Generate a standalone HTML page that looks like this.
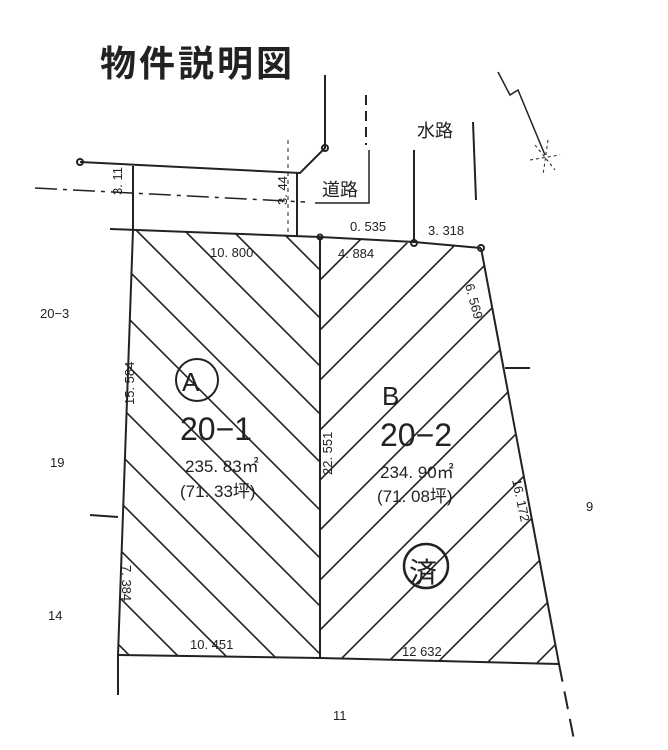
<!DOCTYPE html>
<html><head><meta charset="utf-8"><style>
html,body{margin:0;padding:0;background:#fff;width:668px;height:750px;overflow:hidden}
svg{display:block}
svg text{font-family:"Liberation Sans","Noto Sans CJK JP",sans-serif;fill:#222}
</style></head><body>
<svg width="668" height="750" viewBox="0 0 668 750" xmlns="http://www.w3.org/2000/svg">
<defs>
<clipPath id="cA"><polygon points="133,230 320,237 320,658 118,655"/></clipPath>
<clipPath id="cB"><polygon points="320,237 481,248 559,664 320,658"/></clipPath>
</defs>
<text x="100" y="76" font-size="36" font-weight="bold" letter-spacing="3">物件説明図</text>
<g stroke="#222" stroke-width="2" fill="none">
<g clip-path="url(#cA)" stroke-width="1.6">
<path d="M40,230 l430,430 M88,230 l430,430 M136,230 l430,430 M184,230 l430,430 M232,230 l430,430 M280,230 l430,430 M-8,230 l430,430 M-56,230 l430,430 M-104,230 l430,430 M-152,230 l430,430 M-200,230 l430,430 M-248,230 l430,430 M-296,230 l430,430 M-344,230 l430,430 M-392,230 l430,430"/>
</g>
<g clip-path="url(#cB)" stroke-width="1.6">
<path d="M320,280 l400,-400 M320,330 l400,-400 M320,380 l400,-400 M320,430 l400,-400 M320,480 l400,-400 M320,530 l400,-400 M320,580 l400,-400 M320,630 l400,-400 M320,680 l400,-400 M320,730 l400,-400 M320,780 l400,-400 M320,830 l400,-400 M320,880 l400,-400 M320,930 l400,-400 M320,980 l400,-400"/>
</g>
<polyline points="110,229 320,237 414,242 481,248"/>
<line x1="133" y1="230" x2="118" y2="655"/>
<line x1="118" y1="655" x2="118" y2="695"/>
<line x1="320" y1="237" x2="320" y2="658"/>
<polyline points="118,655 320,658 559,664"/>
<line x1="481" y1="248" x2="559" y2="664"/>
<line x1="559" y1="664" x2="575" y2="745" stroke-dasharray="18,10"/>
<line x1="90" y1="515" x2="118" y2="517"/>
<line x1="505" y1="368" x2="530" y2="368"/>
<circle cx="80" cy="162" r="3"/>
<polyline points="80,162 300,173 325,148 325,75"/>
<circle cx="325" cy="148" r="3"/>
<line x1="133" y1="166" x2="133" y2="230"/>
<line x1="297" y1="173" x2="297" y2="237"/>
<line x1="288" y1="140" x2="288" y2="237" stroke-width="1" stroke-dasharray="4,4"/>
<line x1="35" y1="188" x2="305" y2="202" stroke-width="1.5" stroke-dasharray="22,6,4,6"/>
<polyline points="315,203 369,203 369,150" stroke-width="1.5"/>
<line x1="366" y1="95" x2="366" y2="145" stroke-dasharray="10,6"/>
<line x1="414" y1="150" x2="414" y2="243"/>
<line x1="473" y1="122" x2="476" y2="200"/>
<circle cx="414" cy="243" r="3"/>
<circle cx="481" cy="248" r="3"/>
<circle cx="320" cy="237" r="2.5"/>
<polyline points="498,72 510,95 518,90 545,155" stroke-width="1.5"/>
<path d="M535,145 l20,25 M548,140 l-5,35 M530,160 l30,-5" stroke-width="1" stroke-dasharray="3,3"/>
<circle cx="197" cy="380" r="21" stroke-width="2"/>
<circle cx="426" cy="566" r="22" stroke-width="2.5"/>
</g>
<text x="322" y="196" font-size="18">道路</text>
<text x="417" y="137" font-size="18">水路</text>
<text x="182" y="391" font-size="26">A</text>
<text x="382" y="405" font-size="26">B</text>
<text x="180" y="440" font-size="32">20−1</text>
<text x="380" y="446" font-size="32">20−2</text>
<text x="185" y="472" font-size="17">235. 83㎡</text>
<text x="180" y="497" font-size="17">(71. 33坪)</text>
<text x="380" y="478" font-size="17">234. 90㎡</text>
<text x="377" y="502" font-size="17">(71. 08坪)</text>
<text x="409" y="582" font-size="28">済</text>
<g font-size="13">
<text x="210" y="257">10. 800</text>
<text x="338" y="258">4. 884</text>
<text x="350" y="231">0. 535</text>
<text x="428" y="235">3. 318</text>
<text x="190" y="649">10. 451</text>
<text x="402" y="656">12 632</text>
<text transform="translate(122,195) rotate(-90)">3. 11</text>
<text transform="translate(287,205) rotate(-90)">3. 44</text>
<text transform="translate(465,285) rotate(75)">6. 569</text>
<text transform="translate(134,405) rotate(-90)">15. 584</text>
<text transform="translate(332,475) rotate(-90)">22. 551</text>
<text transform="translate(512,480) rotate(78)">16. 172</text>
<text transform="translate(122,565) rotate(90)">7. 384</text>
<text x="40" y="318">20−3</text>
<text x="50" y="467">19</text>
<text x="48" y="620">14</text>
<text x="586" y="511">9</text>
<text x="333" y="720">11</text>
</g>
</svg>
</body></html>
